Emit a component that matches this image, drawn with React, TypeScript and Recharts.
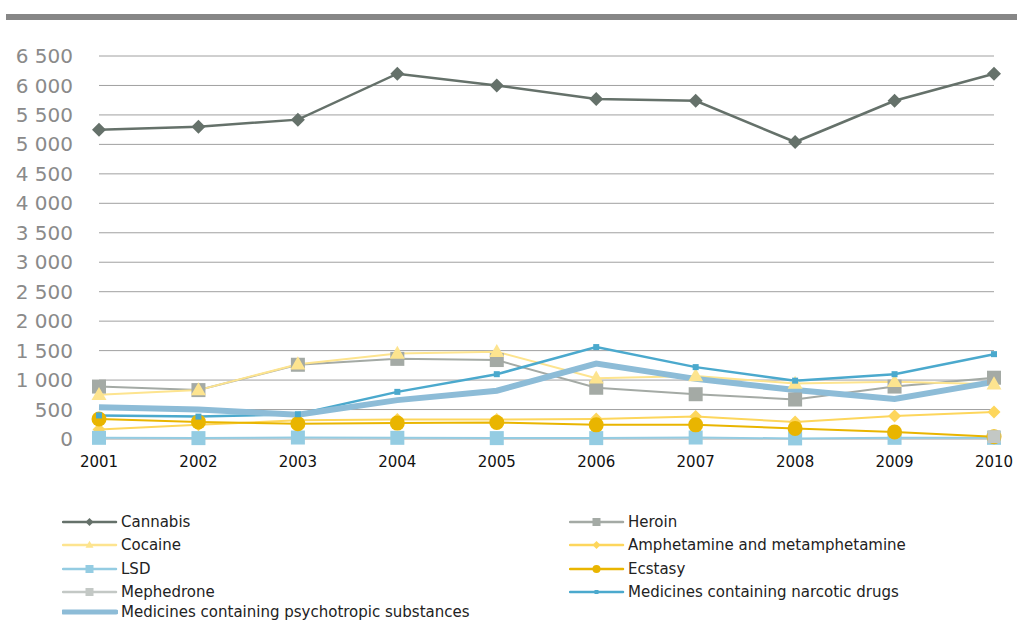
import React from 'react';
import { LineChart, Line, XAxis, YAxis, CartesianGrid } from 'recharts';

const years = ['2001', '2002', '2003', '2004', '2005', '2006', '2007', '2008', '2009', '2010'];
const cannabis = [5250, 5300, 5420, 6200, 6000, 5770, 5740, 5040, 5740, 6200];
const heroin = [890, 830, 1260, 1360, 1340, 870, 760, 670, 890, 1040];
const cocaine = [750, 830, 1270, 1450, 1480, 1030, 1070, 940, 970, 930];
const amphetamine = [160, 240, 320, 330, 330, 340, 380, 290, 390, 460];
const lsd = [20, 15, 25, 20, 15, 15, 25, 10, 20, 20];
const ecstasy = [340, 290, 260, 270, 280, 240, 240, 180, 120, 40];
const mephedrone: (number | null)[] = [null, null, null, null, null, null, null, null, null, 40];
const narcotic = [400, 380, 420, 800, 1100, 1560, 1220, 990, 1100, 1440];
const psychotropic = [540, 500, 410, 660, 820, 1280, 1020, 830, 680, 970];
const yTicks = [0, 500, 1000, 1500, 2000, 2500, 3000, 3500, 4000, 4500, 5000, 5500, 6000, 6500];

const data = years.map((y, i) => ({
  year: y,
  cannabis: cannabis[i],
  heroin: heroin[i],
  cocaine: cocaine[i],
  amphetamine: amphetamine[i],
  lsd: lsd[i],
  ecstasy: ecstasy[i],
  mephedrone: mephedrone[i],
  narcotic: narcotic[i],
  psychotropic: psychotropic[i],
}));

type Shape = 'diamond' | 'square' | 'triangle' | 'circle' | 'none';

function drawShape(shape: Shape, cx: number, cy: number, s: number, fill: string, key?: any) {
  const h = s / 2;
  if (shape === 'diamond')
    return <polygon key={key} points={`${cx},${cy - h} ${cx + h},${cy} ${cx},${cy + h} ${cx - h},${cy}`} fill={fill} />;
  if (shape === 'square')
    return <rect key={key} x={cx - h} y={cy - h} width={s} height={s} fill={fill} />;
  if (shape === 'triangle') {
    const th = s * 0.87;
    return <polygon key={key} points={`${cx},${cy - th * 0.6} ${cx + h},${cy + th * 0.4} ${cx - h},${cy + th * 0.4}`} fill={fill} />;
  }
  if (shape === 'circle') return <circle key={key} cx={cx} cy={cy} r={h} fill={fill} />;
  return <g key={key} />;
}

const makeDot = (shape: Shape, size: number, fill: string) => (props: any) => {
  const { cx, cy, index, value } = props;
  if (cx == null || cy == null || value == null || isNaN(cx) || isNaN(cy)) return <g key={`d${index}`} />;
  return drawShape(shape, cx, cy, size, fill, `d${index}`);
};

interface S {
  key: string;
  name: string;
  color: string;
  width: number;
  shape: Shape;
  size: number;
  legendSize: number;
}

const series: S[] = [
  { key: 'cannabis', name: 'Cannabis', color: '#65716a', width: 2.5, shape: 'diamond', size: 14, legendSize: 8 },
  { key: 'heroin', name: 'Heroin', color: '#a4aaa5', width: 2, shape: 'square', size: 14, legendSize: 8 },
  { key: 'cocaine', name: 'Cocaine', color: '#fde48f', width: 2, shape: 'triangle', size: 15, legendSize: 8 },
  { key: 'amphetamine', name: 'Amphetamine and metamphetamine', color: '#fdd65c', width: 2, shape: 'diamond', size: 13, legendSize: 8 },
  { key: 'lsd', name: 'LSD', color: '#94cce2', width: 2, shape: 'square', size: 14, legendSize: 8 },
  { key: 'ecstasy', name: 'Ecstasy', color: '#e9b500', width: 2, shape: 'circle', size: 15, legendSize: 8 },
  { key: 'mephedrone', name: 'Mephedrone', color: '#c3c8c5', width: 2, shape: 'square', size: 13, legendSize: 8 },
  { key: 'narcotic', name: 'Medicines containing narcotic drugs', color: '#4ba9cd', width: 2.5, shape: 'square', size: 6, legendSize: 4 },
  { key: 'psychotropic', name: 'Medicines containing psychotropic substances', color: '#8dbcd7', width: 6, shape: 'none', size: 0, legendSize: 0 },
];

const fmt = (v: number) => {
  const s = String(v);
  if (s.length <= 3) return s;
  return s.slice(0, s.length - 3) + ' ' + s.slice(s.length - 3);
};

const legendOrder = [
  ['cannabis', 'heroin'],
  ['cocaine', 'amphetamine'],
  ['lsd', 'ecstasy'],
  ['mephedrone', 'narcotic'],
  ['psychotropic'],
];

function LegendItem({ s, x, y }: { s: S; x: number; y: number }) {
  return (
    <div style={{ position: 'absolute', left: x, top: y - 10, height: 20, display: 'flex', alignItems: 'center' }}>
      <svg width={56} height={14} style={{ display: 'block' }}>
        <line x1={1} y1={7} x2={54} y2={7} stroke={s.color} strokeWidth={s.key === 'psychotropic' ? 5 : 2.5} strokeLinecap="round" />
        {drawShape(s.shape, 27.5, 7, s.legendSize, s.color)}
      </svg>
      <span style={{ marginLeft: 3, fontFamily: 'DejaVu Sans', fontSize: 15, color: '#222', whiteSpace: 'nowrap', lineHeight: '20px' }}>
        {s.name}
      </span>
    </div>
  );
}

export default function App() {
  const rowY = [521.5, 545, 568.5, 592, 611.5];
  return (
    <div style={{ position: 'absolute', left: 0, top: 0, width: 1017, height: 621, background: '#fff', overflow: 'hidden' }}>
      <div style={{ position: 'absolute', left: 6, top: 14, width: 1011, height: 5.5, background: '#878787' }} />
      <div style={{ position: 'absolute', left: 0, top: 0 }}>
        <LineChart width={1017} height={480} data={data} margin={{ top: 56, right: 23, bottom: 11, left: 0 }}>
          <CartesianGrid vertical={false} stroke="#a0a0a0" strokeWidth={1} />
          <XAxis
            dataKey="year"
            interval={0}
            padding={{ left: 0, right: 0 }}
            axisLine={false}
            tickLine={false}
            tickSize={0}
            tickMargin={17}
            height={30}
            tick={{ fontFamily: 'DejaVu Sans', fontSize: 15, fill: '#111' }}
          />
          <YAxis
            domain={[0, 6500]}
            ticks={yTicks}
            interval={0}
            width={99}
            axisLine={false}
            tickLine={false}
            tickSize={0}
            tickMargin={26}
            tickFormatter={fmt}
            tick={{ fontFamily: 'DejaVu Sans', fontSize: 20, fill: '#8a8a8a' }}
          />
          {series.map((s) => (
            <Line
              key={s.key}
              type="linear"
              dataKey={s.key}
              name={s.name}
              stroke={s.color}
              strokeWidth={s.width}
              dot={s.shape === 'none' ? false : makeDot(s.shape, s.size, s.color)}
              activeDot={false}
              isAnimationActive={false}
              connectNulls={false}
            />
          ))}
        </LineChart>
      </div>
      {legendOrder.map((row, ri) =>
        row.map((k, ci) => {
          const s = series.find((x) => x.key === k)!;
          return <LegendItem key={k} s={s} x={ci === 0 ? 62 : 569} y={rowY[ri]} />;
        })
      )}
    </div>
  );
}
